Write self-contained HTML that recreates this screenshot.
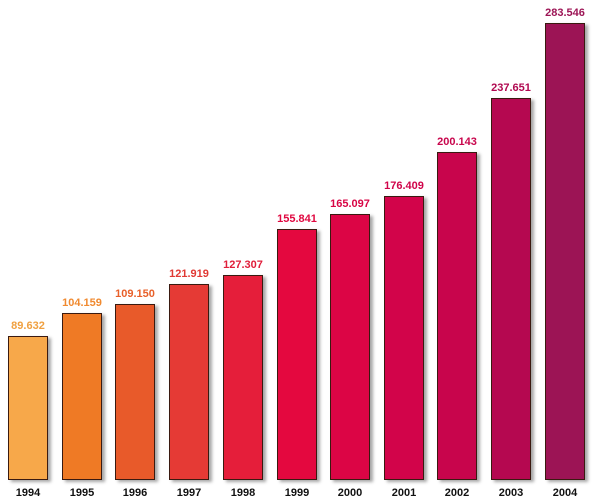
<!DOCTYPE html><html><head><style>
body{margin:0;width:600px;height:501px;background:#fff;position:relative;overflow:hidden;font-family:"Liberation Sans",sans-serif}
.b{position:absolute;bottom:21px;width:38px;border:1px solid #3a1a10;box-shadow:3px 2px 3px rgba(0,0,0,.35)}
.v{position:absolute;width:60px;text-align:center;font-size:11px;font-weight:bold;text-shadow:0 0 2px #fff}
.y{position:absolute;top:487px;width:60px;text-align:center;font-size:11px;font-weight:bold;color:#111}
</style></head><body>
<div id="c"></div>
<script>
var d=[[8,336,"89.632","#f7a84a","#f0a040"],[62,313,"104.159","#ef7a25","#f08a30"],[115,304,"109.150","#e85a2a","#e8602a"],[169,284,"121.919","#e53a35","#e03a35"],[223,275,"127.307","#e51e3a","#e01e3a"],[277,229,"155.841","#e4083f","#e00840"],[330,214,"165.097","#dc0545","#d80545"],[384,196,"176.409","#d2044a","#d0044a"],[437,152,"200.143","#c8054c","#c8054c"],[491,98,"237.651","#b50850","#b00850"],[545,23,"283.546","#9c1455","#9c1455"]];
var h="";d.forEach(function(e,i){h+='<div class="b" style="left:'+e[0]+'px;top:'+e[1]+'px;background:'+e[3]+'"></div>';
h+='<div class="v" style="left:'+(e[0]-10)+'px;top:'+(e[1]-16)+'px;color:'+e[4]+'">'+e[2]+'</div>';
h+='<div class="y" style="left:'+(e[0]-10)+'px">'+(1994+i)+'</div>';});
document.getElementById("c").innerHTML=h;
</script></body></html>
